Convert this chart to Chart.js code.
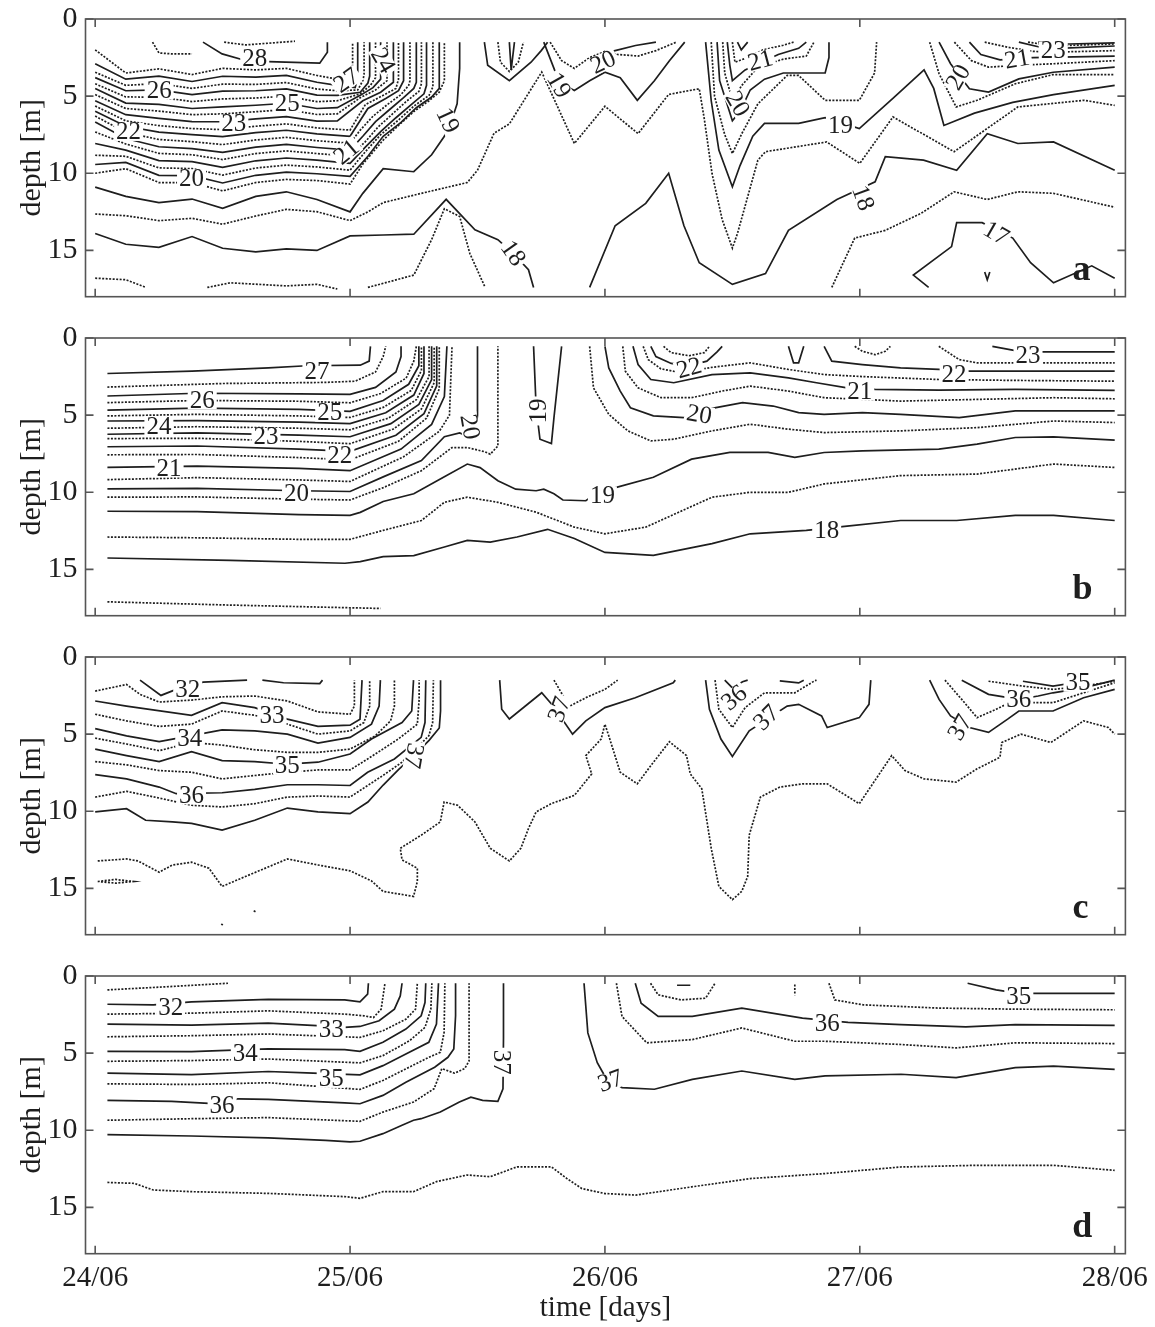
<!DOCTYPE html>
<html lang="en">
<head>
<meta charset="UTF-8">
<title>Temperature and salinity sections</title>
<script src="https://cdn.jsdelivr.net/npm/chart.js"></script>
<style>
    body { margin: 0; background: #fff; overflow: hidden; }
    canvas { position: absolute; left: 0; }
</style>
</head>
<body>
<canvas id="pa" width="1155" height="338" style="top:-11px"></canvas>
<canvas id="pb" width="1155" height="338" style="top:308px"></canvas>
<canvas id="pc" width="1155" height="338" style="top:627px"></canvas>
<canvas id="pd" width="1155" height="381" style="top:946px"></canvas>
<script>
// axis values
const X_MIN = -0.038, X_MAX = 4.042, DEPTH_MAX = 18;
const dayTicks = [0, 1, 2, 3, 4];
const dayLabels = ['24/06', '25/06', '26/06', '27/06', '28/06'];
const depthTicks = [0, 5, 10, 15];

// panel a : contour level, [time (days from 24/06), depth (m)]
const contoursA = [
    [28.5, [[0.225,1.5],[0.25,2.2],[0.3,2.26],[0.38,2.26]]],
    [28.5, [[0.506,1.5],[0.589,1.68],[0.679,1.57],[0.784,1.44]]],
    [28, [[0.423,1.5],[0.498,2.26],[0.589,2.69],[0.68,2.76],[0.881,2.86],[0.911,2.15],[0.911,1.5]]],
    [27.5, [[0,2.0],[0.12,3.5],[0.25,3.23],[0.38,3.6],[0.5,3.2],[0.63,3.3],[0.75,3.2],[0.87,3.66],[0.95,3.9],[1.0,4.2],[1.01,3.6],[1.01,1.5]]],
    [27, [[0,2.9],[0.12,3.9],[0.25,3.7],[0.38,4.05],[0.5,3.71],[0.63,3.77],[0.75,3.66],[0.87,4.1],[0.95,4.3],[1.02,4.45],[1.03,3.8],[1.03,1.5]]],
    [26.5, [[0,3.45],[0.12,4.3],[0.25,4.18],[0.38,4.5],[0.5,4.22],[0.63,4.24],[0.75,4.12],[0.87,4.54],[0.95,4.65],[1.03,4.6],[1.05,4.0],[1.055,3.6],[1.055,1.5]]],
    [26, [[0,3.8],[0.12,4.65],[0.25,4.6],[0.38,4.9],[0.5,4.67],[0.63,4.65],[0.75,4.53],[0.87,4.93],[0.95,4.95],[1.04,4.75],[1.07,4.15],[1.077,3.7],[1.077,1.5]]],
    [25.5, [[0,4.2],[0.12,5.05],[0.25,5.07],[0.38,5.35],[0.5,5.18],[0.63,5.12],[0.75,5.0],[0.87,5.36],[0.95,5.3],[1.04,4.85],[1.08,4.3],[1.1,3.8],[1.1,1.5]]],
    [25, [[0,4.5],[0.12,5.45],[0.25,5.54],[0.38,5.8],[0.5,5.69],[0.63,5.59],[0.75,5.46],[0.87,5.8],[0.95,5.75],[1.04,4.95],[1.09,4.45],[1.12,3.9],[1.12,1.5]]],
    [24.5, [[0,4.9],[0.12,5.8],[0.25,5.97],[0.38,6.2],[0.5,6.15],[0.63,6.01],[0.75,5.87],[0.87,6.19],[0.95,6.15],[1.04,5.1],[1.1,4.6],[1.145,4.0],[1.145,1.5]]],
    [24, [[0,5.3],[0.12,6.2],[0.25,6.44],[0.38,6.65],[0.5,6.66],[0.63,6.48],[0.75,6.33],[0.87,6.62],[0.95,6.6],[1.05,5.3],[1.12,4.75],[1.17,4.1],[1.17,1.5]]],
    [23.5, [[0,5.64],[0.12,6.6],[0.25,6.91],[0.38,7.1],[0.5,7.17],[0.63,6.95],[0.75,6.8],[0.87,7.06],[1.0,7.2],[1.06,5.55],[1.13,4.95],[1.18,4.5],[1.19,3.9],[1.19,1.5]]],
    [23, [[0,5.98],[0.12,6.95],[0.25,7.33],[0.38,7.5],[0.5,7.63],[0.63,7.37],[0.75,7.21],[0.87,7.45],[1.0,7.6],[1.07,5.8],[1.14,5.15],[1.19,4.65],[1.21,4.0],[1.21,1.5]]],
    [22.5, [[0,6.29],[0.12,7.35],[0.25,7.81],[0.38,7.95],[0.5,8.14],[0.63,7.84],[0.75,7.67],[0.87,7.89],[1.0,8.05],[1.04,7.2],[1.09,6.3],[1.15,5.5],[1.2,4.9],[1.23,4.3],[1.235,4.0],[1.235,1.5]]],
    [22, [[0,6.67],[0.12,7.75],[0.25,8.28],[0.38,8.4],[0.5,8.65],[0.63,8.3],[0.75,8.13],[0.87,8.33],[1.0,8.5],[1.05,7.6],[1.1,6.65],[1.16,5.8],[1.21,5.1],[1.25,4.5],[1.26,4.1],[1.26,1.5]]],
    [21.5, [[0,7.32],[0.12,8.1],[0.25,8.71],[0.38,8.8],[0.5,9.11],[0.63,8.72],[0.75,8.55],[0.87,8.72],[1.0,8.9],[1.06,7.95],[1.11,7.0],[1.17,6.1],[1.22,5.35],[1.27,4.7],[1.28,4.2],[1.28,1.5]]],
    [21, [[0,8.07],[0.12,8.5],[0.25,9.18],[0.38,9.25],[0.5,9.62],[0.63,9.19],[0.75,9.01],[0.87,9.15],[1.0,9.35],[1.06,8.3],[1.12,7.3],[1.18,6.4],[1.24,5.55],[1.29,4.85],[1.3,4.3],[1.3,1.5]]],
    [20.5, [[0,8.83],[0.12,8.9],[0.25,9.65],[0.38,9.7],[0.5,10.12],[0.63,9.66],[0.75,9.47],[0.87,9.59],[1.0,9.8],[1.06,8.6],[1.12,7.5],[1.19,6.55],[1.25,5.65],[1.31,4.95],[1.325,4.4],[1.325,1.5]]],
    [20, [[0,9.43],[0.12,9.3],[0.25,10.13],[0.38,10.15],[0.5,10.63],[0.63,10.13],[0.75,9.93],[0.87,10.03],[1.0,10.2],[1.07,8.9],[1.13,7.6],[1.2,6.7],[1.26,5.75],[1.32,5.06],[1.35,4.5],[1.35,1.5]]],
    [19.5, [[0,10.0],[0.12,9.7],[0.25,10.6],[0.38,10.6],[0.5,11.14],[0.63,10.6],[0.75,10.4],[0.87,10.47],[1.0,10.7],[1.05,9.4],[1.13,7.85],[1.19,6.9],[1.25,6.0],[1.31,5.3],[1.35,4.74],[1.37,4.0],[1.37,1.5]]],
    [19, [[0,10.9],[0.12,11.5],[0.25,11.9],[0.38,11.67],[0.5,12.27],[0.63,11.5],[0.75,11.2],[0.87,11.7],[1.0,12.5],[1.05,11.3],[1.13,9.7],[1.25,9.9],[1.32,8.8],[1.37,7.6],[1.4,6.5],[1.42,5.5],[1.43,3.2],[1.43,1.5]]],
    [18.5, [[0,12.64],[0.12,12.75],[0.25,13.07],[0.38,12.92],[0.5,13.3],[0.63,12.77],[0.75,12.34],[0.87,12.49],[1.0,13.07],[1.07,12.5],[1.13,11.9],[1.28,11.3],[1.46,10.6],[1.5,9.8],[1.565,7.4],[1.625,6.8],[1.752,3.44],[1.88,8.07],[2.0,5.66],[2.13,7.43],[2.25,4.89],[2.37,4.52],[2.39,6.5],[2.42,10.0],[2.46,13.0],[2.5,14.85],[2.52,13.9],[2.6,9.15],[2.63,8.6],[2.87,7.97],[3.0,9.36],[3.13,6.35],[3.37,8.6],[3.62,5.7],[3.88,5.27],[4.0,5.6]]],
    [18, [[0,13.9],[0.12,14.6],[0.25,14.8],[0.38,14.1],[0.5,14.86],[0.63,15.1],[0.75,14.9],[0.87,15.0],[1.0,14.06],[1.13,14.0],[1.25,13.95],[1.377,11.69],[1.49,13.67],[1.58,14.3],[1.64,15.2],[1.7,16.25],[1.72,17.4]]],
    [18, [[1.94,17.4],[2.04,13.4],[2.16,11.95],[2.25,10.0],[2.31,13.4],[2.37,15.8],[2.5,17.2],[2.63,16.5],[2.72,13.7],[2.91,11.7],[3.06,10.55],[3.1,8.93],[3.25,9.15],[3.38,9.8],[3.5,7.43],[3.62,8.07],[3.76,7.97],[4.0,9.8]]],
    [17.5, [[0,16.8],[0.12,16.9],[0.2,17.4]]],
    [17.5, [[0.44,17.4],[0.53,17.1],[0.75,17.3],[0.87,17.2],[0.95,17.5]]],
    [17.5, [[1.07,17.4],[1.25,16.6],[1.32,14.3],[1.37,12.3],[1.43,12.8],[1.47,15.2],[1.53,17.4]]],
    [17.5, [[2.89,17.4],[2.98,14.2],[3.1,13.7],[3.24,12.6],[3.37,11.2],[3.5,11.7],[3.62,11.2],[3.76,11.3],[4.0,12.2]]],
    [17, [[3.27,17.4],[3.21,16.6],[3.36,14.75],[3.38,13.2],[3.48,13.2],[3.6,14.2],[3.67,15.8],[3.76,17.1],[3.91,16.0],[4.0,16.8]]],
    [17, [[3.49,16.4],[3.5,16.9],[3.51,16.4]]],
    [19, [[1.527,1.5],[1.54,3.0],[1.625,4.0],[1.71,2.8],[1.75,2.05],[1.775,1.5]]],
    [19.5, [[1.58,1.5],[1.59,2.8],[1.625,3.4],[1.66,2.8],[1.68,1.5]]],
    [20, [[1.625,1.5],[1.632,3.3],[1.645,1.5]]],
    [19, [[1.76,1.5],[1.8,3.2],[1.82,4.1],[1.88,4.63],[1.94,4.0],[2.0,3.45],[2.06,3.8],[2.127,5.27],[2.194,4.0],[2.253,2.7],[2.313,1.5]]],
    [19.5, [[1.785,1.5],[1.83,2.7],[1.88,3.2],[1.94,2.5],[2.0,2.1],[2.05,2.3],[2.13,2.4],[2.2,2.05],[2.28,1.5]]],
    [20, [[1.98,2.3],[2.04,2.05],[2.12,1.72],[2.2,1.5]]],
    [19, [[2.395,1.5],[2.417,5.3],[2.447,8.5],[2.5,10.87],[2.53,9.5],[2.58,7.6],[2.626,6.77],[2.76,6.77],[2.864,6.4],[2.998,7.1],[3.133,5.1],[3.252,3.3],[3.29,4.5],[3.33,6.9],[3.45,6.1],[3.6,5.4],[3.76,4.9],[4.0,4.3]]],
    [19.5, [[2.417,1.5],[2.43,5.0],[2.47,7.5],[2.5,8.72],[2.537,7.43],[2.6,5.5],[2.715,3.66],[2.76,3.66],[2.864,5.27],[2.998,5.27],[3.058,3.5],[3.066,1.5]]],
    [20, [[2.44,1.5],[2.45,4.0],[2.5,6.6],[2.53,6.0],[2.57,4.6],[2.626,3.9],[2.7,3.5],[2.864,3.5],[2.879,2.5],[2.879,1.5]]],
    [20.5, [[2.462,1.5],[2.47,3.5],[2.5,5.27],[2.537,4.3],[2.6,3.12],[2.7,2.6],[2.79,2.4],[2.82,1.5]]],
    [21, [[2.48,1.5],[2.49,3.0],[2.5,4.0],[2.55,3.3],[2.68,2.3],[2.76,1.9],[2.79,1.5]]],
    [21.5, [[2.5,1.5],[2.51,2.8],[2.56,2.5],[2.62,2.0],[2.7,1.7],[2.74,1.5]]],
    [22, [[2.52,1.5],[2.535,2.0],[2.56,1.5]]],
    [19.5, [[3.274,1.5],[3.311,3.55],[3.378,5.7],[3.46,5.27],[3.61,4.2],[3.759,3.6],[4.0,3.6]]],
    [20, [[3.311,1.5],[3.356,2.9],[3.43,4.52],[3.505,4.74],[3.624,3.88],[3.759,3.45],[4.0,3.12]]],
    [20.5, [[3.371,1.5],[3.438,2.7],[3.505,3.12],[3.624,3.0],[3.759,2.9],[4.0,2.7]]],
    [21, [[3.43,1.5],[3.475,2.3],[3.55,2.65],[3.68,2.5],[4.0,2.4]]],
    [21.5, [[3.49,1.5],[3.58,1.83],[3.68,2.1],[3.759,2.15],[4.0,2.05]]],
    [22, [[3.624,1.5],[3.7,1.8],[3.78,1.9],[4.0,1.75]]],
    [22.5, [[3.66,1.5],[3.74,1.7],[3.8,1.72],[4.0,1.62]]],
    [23, [[3.7,1.5],[3.82,1.62],[4.0,1.55]]]
];
// label text, time, depth, tilt in degrees
const labelsA = [
    ['28', 0.626, 2.58, 0], ['27', 0.986, 3.98, -35], ['26', 0.251, 4.63, 0], ['25', 0.754, 5.49, 0],
    ['24', 1.129, 2.69, 60], ['23', 0.544, 6.78, 0], ['22', 0.131, 7.32, 0], ['21', 0.986, 8.61, -40],
    ['20', 0.378, 10.33, 0], ['19', 1.384, 6.57, 65], ['18', 1.64, 15.18, 55], ['19', 1.82, 4.3, 60],
    ['20', 1.993, 2.8, -25], ['21', 2.61, 2.69, -15], ['20', 2.52, 5.49, 60], ['19', 2.924, 6.89, 0],
    ['18', 3.013, 11.6, 70], ['17', 3.535, 13.89, 30], ['20', 3.386, 3.77, -60], ['21', 3.617, 2.6, -10],
    ['23', 3.759, 2.05, 0]
];

// panel b
const contoursB = [
    [27, [[0.048,2.3],[0.38,2.15],[0.68,1.94],[0.83,1.8],[1.04,1.76],[1.075,1.5],[1.08,0.54]]],
    [26.5, [[0.048,3.18],[0.5,2.95],[0.9,2.88],[1.02,2.8],[1.1,2.2],[1.13,1.2],[1.14,0.54]]],
    [26, [[0.048,3.76],[0.4,3.58],[0.8,3.62],[1.0,3.65],[1.1,3.2],[1.18,2.2],[1.2,1.2],[1.2,0.54]]],
    [25.5, [[0.048,4.19],[0.4,4.05],[0.8,4.1],[1.0,4.2],[1.12,3.6],[1.22,2.6],[1.25,1.5],[1.26,0.54]]],
    [25, [[0.048,4.67],[0.4,4.55],[0.8,4.62],[1.0,4.75],[1.13,4.05],[1.23,3.0],[1.27,1.8],[1.27,0.54]]],
    [24.5, [[0.048,5.05],[0.4,4.95],[0.8,5.05],[1.0,5.15],[1.13,4.5],[1.24,3.4],[1.28,2.1],[1.28,0.54]]],
    [24, [[0.048,5.38],[0.4,5.35],[0.8,5.45],[1.0,5.55],[1.14,4.85],[1.25,3.7],[1.29,2.3],[1.29,0.54]]],
    [23.5, [[0.048,5.85],[0.4,5.75],[0.8,5.85],[1.0,5.95],[1.15,5.2],[1.26,4.0],[1.31,2.5],[1.31,0.54]]],
    [23, [[0.048,6.24],[0.4,6.15],[0.8,6.3],[1.0,6.4],[1.16,5.55],[1.27,4.3],[1.32,2.7],[1.32,0.54]]],
    [22.5, [[0.048,6.52],[0.4,6.5],[0.8,6.7],[1.0,6.85],[1.17,5.9],[1.28,4.6],[1.33,2.9],[1.33,0.54]]],
    [22, [[0.048,7.05],[0.4,7.0],[0.8,7.2],[1.0,7.35],[1.18,6.3],[1.29,4.9],[1.34,3.1],[1.34,0.54]]],
    [21.5, [[0.048,7.57],[0.4,7.55],[0.8,7.75],[1.0,7.9],[1.19,6.7],[1.3,5.2],[1.35,3.3],[1.35,0.54]]],
    [21, [[0.048,8.39],[0.4,8.3],[0.8,8.45],[1.0,8.6],[1.2,7.2],[1.32,5.6],[1.37,3.8],[1.38,0.54]]],
    [20.5, [[0.048,9.18],[0.4,9.05],[0.8,9.2],[1.0,9.3],[1.21,7.7],[1.35,6.05],[1.39,5.0],[1.4,0.54]]],
    [20, [[0.048,9.78],[0.4,9.75],[0.8,9.9],[1.0,9.95],[1.13,9.0],[1.28,7.95],[1.37,6.4],[1.43,6.15],[1.49,6.55],[1.5,5.0],[1.5,0.54]]],
    [19.5, [[0.048,10.32],[0.4,10.3],[0.8,10.45],[1.0,10.5],[1.13,9.7],[1.28,8.6],[1.4,7.1],[1.46,7.1],[1.53,7.38],[1.55,7.53],[1.58,7.0],[1.58,0.54]]],
    [19, [[0.048,11.23],[0.4,11.25],[0.8,11.45],[1.0,11.5],[1.04,11.3],[1.13,10.6],[1.25,10.1],[1.37,9.0],[1.46,8.17],[1.51,8.4],[1.58,9.25],[1.65,9.8],[1.73,9.9],[1.76,9.8],[1.8,10.1],[1.835,10.5],[1.925,10.55],[1.955,10.2],[2.045,9.68],[2.19,9.03],[2.34,7.85],[2.49,7.42],[2.64,7.42],[2.745,7.74],[2.86,7.42],[3.01,7.31],[3.31,7.2],[3.46,6.88],[3.61,6.45],[3.76,6.41],[4.0,6.62]]],
    [18.5, [[0.048,12.9],[0.4,12.95],[0.8,13.05],[1.0,13.05],[1.13,12.47],[1.28,11.83],[1.37,10.65],[1.46,10.32],[1.58,10.65],[1.73,11.29],[1.88,12.26],[2.0,12.69],[2.16,12.26],[2.42,10.32],[2.57,10.0],[2.72,10.0],[2.86,9.46],[3.16,8.92],[3.46,8.82],[3.76,8.17],[4.0,8.39]]],
    [18, [[0.048,14.26],[0.53,14.41],[0.98,14.6],[1.04,14.5],[1.13,14.17],[1.25,14.1],[1.37,13.55],[1.46,13.12],[1.55,13.23],[1.655,12.9],[1.775,12.4],[1.88,13.0],[2.0,13.9],[2.19,14.09],[2.42,13.33],[2.57,12.69],[2.79,12.47],[2.95,12.2],[3.16,11.83],[3.38,11.83],[3.61,11.5],[3.76,11.5],[4.0,11.83]]],
    [17.5, [[0.048,17.1],[0.5,17.3],[1.12,17.53]]],
    [19, [[1.72,0.54],[1.73,4.5],[1.745,6.56],[1.79,6.84],[1.8,5.16],[1.83,0.54]]],
    [19.5, [[1.94,0.54],[1.955,3.23],[2.015,4.95],[2.09,6.02],[2.18,6.67],[2.27,6.56],[2.42,6.02],[2.57,5.59],[2.72,5.91],[2.86,6.13],[3.16,6.02],[3.46,5.81],[3.76,5.38],[4.0,5.48]]],
    [20, [[2.0,0.54],[2.015,1.94],[2.06,3.44],[2.1,4.52],[2.19,5.05],[2.31,5.16],[2.42,4.56],[2.54,4.19],[2.66,4.41],[2.76,4.84],[2.86,4.95],[3.01,4.84],[3.16,4.95],[3.39,5.16],[3.61,4.73],[4.0,4.73]]],
    [20.5, [[2.07,0.54],[2.08,2.15],[2.13,3.23],[2.22,3.87],[2.34,3.87],[2.46,3.44],[2.57,3.12],[2.72,3.44],[2.86,3.87],[3.16,4.09],[3.46,3.98],[3.76,3.87],[4.0,3.94]]],
    [21, [[2.11,0.54],[2.13,1.72],[2.18,2.69],[2.27,2.9],[2.42,2.37],[2.57,2.26],[2.72,2.58],[2.83,2.9],[2.95,3.23],[3.06,3.33],[3.31,3.38],[3.61,3.33],[4.0,3.4]]],
    [21.5, [[2.15,0.54],[2.17,1.4],[2.22,2.0],[2.3,2.25],[2.42,1.9],[2.57,1.61],[2.72,2.04],[2.86,2.37],[3.01,2.5],[3.31,2.69],[3.61,2.75],[4.0,2.8]]],
    [22, [[2.18,0.54],[2.2,1.2],[2.26,1.65],[2.33,1.8],[2.4,1.5],[2.44,0.9],[2.46,0.54]]],
    [22.5, [[2.23,0.54],[2.26,0.95],[2.33,1.15],[2.39,0.95],[2.41,0.54]]],
    [22, [[2.72,0.54],[2.74,1.61],[2.76,1.61],[2.78,0.54]]],
    [22, [[2.86,0.54],[2.89,1.5],[3.01,1.72],[3.16,1.94],[3.31,2.04],[3.43,2.15],[3.61,2.15],[4.0,2.15]]],
    [22.5, [[2.98,0.54],[3.01,0.86],[3.06,1.08],[3.1,0.86],[3.12,0.54]]],
    [22.5, [[3.31,0.54],[3.39,1.4],[3.46,1.61],[3.76,1.61],[4.0,1.61]]],
    [23, [[3.52,0.54],[3.61,0.82],[3.71,0.9],[4.0,0.9]]]
];
const labelsB = [
    ['27', 0.87, 2.15, 0], ['26', 0.42, 4.04, 0], ['25', 0.92, 4.84, 0], ['24', 0.25, 5.76, 0],
    ['23', 0.67, 6.41, 0], ['22', 0.96, 7.63, 0], ['21', 0.29, 8.45, 0], ['20', 0.79, 10.06, 0],
    ['20', 1.47, 5.76, 80], ['19', 1.74, 4.73, -90], ['19', 1.99, 10.2, 0], ['18', 2.87, 12.5, 0],
    ['22', 2.33, 1.94, -15], ['22', 3.37, 2.37, 0], ['21', 3.0, 3.48, 0], ['20', 2.37, 4.95, 10],
    ['23', 3.66, 1.14, 0]
];

// panel c
const contoursC = [
    [32, [[0.176,1.5],[0.258,2.49],[0.318,2.1],[0.423,1.63],[0.596,1.5]]],
    [32, [[0.656,1.5],[0.739,1.67],[0.881,1.72],[0.892,1.5]]],
    [32.5, [[0,2.21],[0.123,1.78],[0.176,2.42],[0.251,2.92],[0.378,2.79],[0.498,2.58],[0.626,2.53],[0.754,2.85],[0.874,3.56],[1.0,3.71],[1.017,3.18],[1.017,1.5]]],
    [33, [[0,2.85],[0.123,3.18],[0.378,3.78],[0.498,2.96],[0.626,3.28],[0.754,4.03],[0.874,4.5],[1.0,4.42],[1.039,4.03],[1.047,1.5]]],
    [33.5, [[0,3.71],[0.123,4.14],[0.251,4.5],[0.378,4.35],[0.498,3.5],[0.626,3.78],[0.754,4.35],[0.874,5.0],[1.0,4.79],[1.054,4.25],[1.077,3.18],[1.077,1.5]]],
    [34, [[0,4.64],[0.123,5.11],[0.251,5.49],[0.378,5.1],[0.498,4.72],[0.626,4.79],[0.754,5.0],[0.874,5.58],[1.0,5.21],[1.084,4.35],[1.114,3.18],[1.119,1.5]]],
    [34.5, [[0,5.26],[0.123,5.64],[0.251,6.07],[0.378,5.54],[0.498,5.71],[0.626,6.01],[0.754,6.18],[0.874,6.18],[1.0,5.97],[1.099,5.11],[1.159,4.14],[1.174,3.18],[1.174,1.5]]],
    [35, [[0,5.97],[0.123,6.39],[0.251,6.78],[0.378,6.14],[0.498,6.72],[0.626,6.78],[0.754,6.95],[0.874,6.82],[1.0,6.29],[1.084,5.32],[1.204,4.25],[1.242,3.5],[1.249,1.5]]],
    [35.5, [[0,6.78],[0.123,6.99],[0.251,7.36],[0.378,7.47],[0.498,7.9],[0.626,7.68],[0.754,7.47],[0.874,7.32],[1.0,7.32],[1.069,6.61],[1.189,5.32],[1.264,4.35],[1.271,2.75],[1.271,1.5]]],
    [36, [[0,7.62],[0.123,7.9],[0.251,8.43],[0.318,8.86],[0.498,8.8],[0.626,8.58],[0.754,8.28],[0.874,8.28],[1.0,8.33],[1.069,7.47],[1.174,6.61],[1.279,5.21],[1.294,4.25],[1.297,1.5]]],
    [36.5, [[0,9.08],[0.123,8.71],[0.251,9.14],[0.378,9.61],[0.498,9.72],[0.626,9.51],[0.754,9.08],[0.874,9.01],[1.0,9.08],[1.069,8.33],[1.129,7.68],[1.204,6.82],[1.309,5.11],[1.324,4.25],[1.327,1.5]]],
    [37, [[0,10.04],[0.123,9.83],[0.198,10.58],[0.303,10.69],[0.378,10.79],[0.498,11.22],[0.626,10.58],[0.754,9.79],[0.874,10.04],[1.0,10.15],[1.07,9.4],[1.13,8.3],[1.19,7.3],[1.25,6.4],[1.31,5.4],[1.35,4.6],[1.355,3.5],[1.355,1.5]]],
    [37.5, [[0.01,13.22],[0.123,13.09],[0.168,13.22],[0.251,13.95],[0.303,13.48],[0.378,13.3],[0.446,13.69],[0.498,14.87],[0.589,14.23],[0.754,13.09],[0.874,13.48],[1.0,13.86],[1.084,14.51],[1.129,15.19],[1.249,15.52],[1.264,14.55],[1.264,13.69],[1.204,13.15],[1.197,12.4],[1.279,11.55],[1.354,10.69],[1.369,9.4],[1.422,9.61],[1.49,10.69],[1.55,12.4],[1.625,13.22],[1.67,12.4],[1.7,11.12],[1.73,10.04],[1.79,9.5],[1.88,8.97],[1.948,7.58],[1.925,6.39],[1.985,5.32],[2.0,4.36],[2.015,5.11],[2.06,7.47],[2.127,8.22],[2.18,7.04],[2.253,5.49],[2.32,6.39],[2.335,7.58],[2.38,8.54],[2.417,12.4],[2.447,14.87],[2.5,15.73],[2.537,15.19],[2.56,14.23],[2.566,11.55],[2.61,9.08],[2.686,8.43],[2.775,8.22],[2.872,8.22],[2.998,9.51],[3.125,6.39],[3.177,7.36],[3.252,7.9],[3.378,8.11],[3.46,7.25],[3.55,6.5],[3.557,5.54],[3.632,5.0],[3.75,5.54],[3.878,4.14],[3.975,4.57],[4.0,5.0]]],
    [37.5, [[0.01,14.55],[0.08,14.42],[0.15,14.55],[0.08,14.66],[0.01,14.55]]],
    [37.5, [[0.622,16.45],[0.63,16.52]]],
    [37.5, [[0.494,17.32],[0.502,17.36]]],
    [37, [[1.587,1.5],[1.595,3.39],[1.625,4.02],[1.752,2.32],[1.797,3.18],[1.873,5.0],[1.925,4.14],[2.0,3.28],[2.119,2.64],[2.268,1.67],[2.276,1.5]]],
    [36.5, [[1.8,1.5],[1.86,3.2],[1.93,2.6],[2.0,2.1],[2.05,1.5]]],
    [37, [[2.395,1.5],[2.41,3.39],[2.455,5.32],[2.5,6.44],[2.566,4.79],[2.715,3.18],[2.76,3.07],[2.85,3.82],[2.872,4.57],[2.998,3.93],[3.036,3.07],[3.043,1.5]]],
    [36.5, [[2.432,1.5],[2.447,3.39],[2.5,4.57],[2.55,3.28],[2.626,2.32],[2.745,2.32],[2.82,1.57],[2.83,1.5]]],
    [36, [[2.47,1.5],[2.5,2.0],[2.54,1.6],[2.56,1.5]]],
    [36, [[2.686,1.55],[2.76,1.68],[2.78,1.5]]],
    [37, [[3.274,1.5],[3.311,2.75],[3.356,3.82],[3.43,4.57],[3.505,4.89],[3.58,4.03],[3.624,3.5],[3.758,3.5],[3.878,2.64],[4.0,2.1]]],
    [36.5, [[3.334,1.5],[3.4,2.75],[3.46,3.93],[3.535,3.39],[3.587,2.96],[3.758,2.96],[3.878,2.32],[4.0,1.67]]],
    [36, [[3.4,1.5],[3.505,2.42],[3.624,2.75],[3.7,2.53],[3.758,2.32],[3.878,2.0],[4.0,1.5]]],
    [35.5, [[3.505,1.57],[3.64,1.89],[3.758,2.1],[3.878,1.89],[4.0,1.57]]],
    [35, [[3.64,1.57],[3.758,1.89],[3.878,1.57]]]
];
const labelsC = [
    ['32', 0.363, 2.1, 0], ['33', 0.694, 3.82, 0], ['34', 0.371, 5.28, 0], ['35', 0.754, 7.04, 0],
    ['36', 0.378, 8.97, 0], ['37', 1.25, 6.4, 100], ['37', 1.82, 3.39, -70], ['36', 2.507, 2.64, -40],
    ['37', 2.633, 3.93, -45], ['37', 3.393, 4.57, -60], ['36', 3.624, 2.75, 0], ['35', 3.856, 1.67, 0]
];

// panel d
const contoursD = [
    [31.5, [[0.048,0.9],[0.288,0.69],[0.521,0.47]]],
    [32, [[0.048,1.83],[0.228,1.87],[0.378,1.68],[0.679,1.51],[0.979,1.55],[1.039,1.68],[1.069,1.18],[1.072,0.47]]],
    [32.5, [[0.048,2.47],[0.378,2.41],[0.679,2.26],[0.979,2.47],[1.054,2.58],[1.092,2.69],[1.122,2.15],[1.137,0.47]]],
    [33, [[0.048,3.12],[0.378,3.18],[0.679,3.05],[0.889,3.23],[0.979,3.33],[1.039,3.27],[1.114,2.9],[1.174,2.15],[1.197,1.29],[1.204,0.47]]],
    [33.5, [[0.048,3.94],[0.378,3.87],[0.679,3.76],[1.039,3.98],[1.129,3.55],[1.219,2.8],[1.257,2.15],[1.264,0.47]]],
    [34, [[0.048,4.88],[0.378,4.9],[0.679,4.73],[0.979,4.77],[1.039,4.88],[1.129,4.3],[1.219,3.44],[1.279,2.58],[1.294,1.72],[1.297,0.47]]],
    [34.5, [[0.048,5.53],[0.378,5.48],[0.679,5.38],[1.039,5.63],[1.129,5.16],[1.234,4.19],[1.294,3.33],[1.317,2.15],[1.321,0.47]]],
    [35, [[0.048,6.3],[0.378,6.39],[0.679,6.19],[0.829,6.28],[1.039,6.41],[1.129,5.81],[1.219,5.05],[1.309,4.3],[1.339,3.12],[1.347,0.47]]],
    [35.5, [[0.048,6.99],[0.378,7.03],[0.679,6.92],[1.039,7.35],[1.129,6.77],[1.219,6.02],[1.309,5.27],[1.354,4.95],[1.369,3.66],[1.372,0.47]]],
    [36, [[0.048,8.06],[0.3,8.13],[0.5,8.3],[0.56,7.96],[0.679,8.0],[0.979,8.22],[1.039,8.28],[1.129,7.74],[1.219,6.88],[1.332,5.91],[1.384,5.27],[1.407,4.73],[1.414,2.58],[1.414,0.47]]],
    [36.5, [[0.048,9.35],[0.378,9.25],[0.679,9.18],[1.039,9.42],[1.129,8.82],[1.249,8.17],[1.33,7.3],[1.36,6.0],[1.41,6.3],[1.45,6.0],[1.467,5.5],[1.467,0.47]]],
    [37, [[0.048,10.28],[0.378,10.37],[0.679,10.49],[0.904,10.65],[1.0,10.75],[1.039,10.71],[1.129,10.22],[1.204,9.68],[1.249,9.35],[1.279,9.25],[1.354,8.82],[1.429,8.17],[1.474,7.85],[1.52,8.06],[1.58,8.13],[1.6,7.31],[1.602,4.0],[1.602,0.47]]],
    [37.5, [[0.048,13.38],[0.153,13.44],[0.228,13.87],[0.378,13.98],[0.679,14.09],[0.979,14.3],[1.039,14.41],[1.129,13.98],[1.249,13.98],[1.339,13.33],[1.459,12.9],[1.55,13.01],[1.655,12.37],[1.79,12.37],[1.85,13.12],[1.91,13.78],[2.0,14.1],[2.12,14.2],[2.34,13.67],[2.57,13.13],[2.86,12.81],[3.16,12.38],[3.46,12.27],[3.76,12.27],[4.0,12.6]]],
    [37, [[1.918,0.47],[1.933,3.69],[1.97,5.62],[2.0,6.5],[2.067,7.23],[2.194,7.34],[2.343,6.7],[2.537,6.16],[2.745,6.7],[2.864,6.48],[3.162,6.37],[3.378,6.59],[3.61,5.94],[3.76,5.84],[4.0,6.05]]],
    [36.5, [[2.045,0.47],[2.067,2.62],[2.164,4.33],[2.343,4.12],[2.537,3.37],[2.745,4.23],[2.864,4.23],[3.162,4.44],[3.378,4.66],[3.61,4.33],[4.0,4.38]]],
    [36, [[2.119,0.47],[2.142,1.76],[2.209,2.62],[2.343,2.62],[2.537,2.08],[2.775,2.73],[2.954,3.0],[3.162,3.15],[3.416,3.3],[3.61,3.15],[4.0,3.2]]],
    [35.5, [[2.179,0.47],[2.209,1.22],[2.298,1.55],[2.395,1.44],[2.432,0.47]]],
    [35, [[2.283,0.6],[2.335,0.6]]],
    [35.5, [[2.745,0.55],[2.745,1.25]]],
    [35.5, [[2.879,0.47],[2.902,1.55],[3.013,1.87],[3.311,2.08],[3.61,2.15],[4.0,2.19]]],
    [35, [[3.423,0.47],[3.535,0.9],[3.624,1.12],[3.7,1.12],[4.0,1.12]]]
];
const labelsD = [
    ['32', 0.296, 2.04, 0], ['33', 0.926, 3.44, 0], ['34', 0.589, 4.99, 0], ['35', 0.926, 6.67, 0],
    ['36', 0.498, 8.39, 0], ['37', 1.595, 5.59, 90], ['37', 2.022, 6.8, -20], ['36', 2.872, 3.09, 0],
    ['35', 3.624, 1.33, 0]
];

const SERIF = '"Liberation Serif", "Times New Roman", serif';
const INK = '#1e1e1e';

const panelExtras = {
    pa: { labels: labelsA, letter: 'a' },
    pb: { labels: labelsB, letter: 'b' },
    pc: { labels: labelsC, letter: 'c' },
    pd: { labels: labelsD, letter: 'd' }
};

// contour labels, box with inward ticks, panel letter
const contourFrame = {
    id: 'contourFrame',
    afterDatasetsDraw(chart) {
        const extra = panelExtras[chart.canvas.id];
        const { ctx, chartArea: area, scales: { x, y } } = chart;
        ctx.save();
        ctx.font = '25px ' + SERIF;
        ctx.textAlign = 'center';
        ctx.textBaseline = 'middle';
        extra.labels.forEach(([txt, t, d, ang]) => {
            const px = x.getPixelForValue(t);
            const py = y.getPixelForValue(d);
            const w = ctx.measureText(txt).width;
            ctx.save();
            ctx.translate(px, py);
            ctx.rotate(ang * Math.PI / 180);
            ctx.fillStyle = '#fff';
            ctx.fillRect(-w / 2 - 2, -9, w + 4, 18);
            ctx.fillStyle = INK;
            ctx.fillText(txt, 0, 1);
            ctx.restore();
        });

        ctx.strokeStyle = '#555';
        ctx.lineWidth = 1.6;
        ctx.strokeRect(area.left, area.top, area.right - area.left, area.bottom - area.top);
        ctx.beginPath();
        dayTicks.forEach(v => {
            const px = x.getPixelForValue(v);
            ctx.moveTo(px, area.bottom); ctx.lineTo(px, area.bottom - 8);
            ctx.moveTo(px, area.top); ctx.lineTo(px, area.top + 8);
        });
        depthTicks.forEach(v => {
            const py = y.getPixelForValue(v);
            ctx.moveTo(area.left, py); ctx.lineTo(area.left + 8, py);
            ctx.moveTo(area.right, py); ctx.lineTo(area.right - 8, py);
        });
        ctx.stroke();

        ctx.font = 'bold 36px ' + SERIF;
        ctx.fillStyle = INK;
        ctx.textAlign = 'left';
        ctx.textBaseline = 'alphabetic';
        ctx.fillText(extra.letter, area.right - 53, area.bottom - 17);
        ctx.restore();
    }
};

function drawPanel(id, contours, withTime) {
    const datasets = contours.map(([level, pts]) => ({
        label: String(level),
        data: pts.map(([t, d]) => ({ x: t, y: d })),
        showLine: true,
        borderColor: INK,
        borderWidth: 1.7,
        borderDash: Number.isInteger(level) ? [] : [2, 1.5],
        pointRadius: 0,
        tension: 0,
        fill: false
    }));

    new Chart(document.getElementById(id), {
        type: 'scatter',
        data: { datasets },
        plugins: [contourFrame],
        options: {
            responsive: false,
            animation: false,
            devicePixelRatio: 1,
            layout: { padding: { left: 0, right: 29.6, top: 30, bottom: withTime ? 0 : 30.3 } },
            plugins: { legend: { display: false }, tooltip: { enabled: false } },
            scales: {
                x: {
                    type: 'linear',
                    min: X_MIN,
                    max: X_MAX,
                    display: withTime,
                    grid: { display: false, drawTicks: false },
                    border: { display: false },
                    afterBuildTicks: s => { s.ticks = dayTicks.map(v => ({ value: v })); },
                    afterFit: s => { s.height = withTime ? 73.3 : 0; },
                    ticks: {
                        padding: 7,
                        autoSkip: false,
                        maxRotation: 0,
                        color: INK,
                        font: { family: SERIF, size: 29 },
                        callback: v => dayLabels[dayTicks.indexOf(v)]
                    },
                    title: {
                        display: true,
                        text: 'time [days]',
                        color: INK,
                        font: { family: SERIF, size: 29 },
                        padding: { top: 0, bottom: 1 }
                    }
                },
                y: {
                    type: 'linear',
                    reverse: true,
                    min: 0,
                    max: DEPTH_MAX,
                    grid: { display: false, drawTicks: false },
                    border: { display: false },
                    afterBuildTicks: s => { s.ticks = depthTicks.map(v => ({ value: v })); },
                    afterFit: s => { s.width = 85.5; },
                    ticks: { padding: 8, color: INK, font: { family: SERIF, size: 30 } },
                    title: {
                        display: true,
                        text: 'depth [m]',
                        color: INK,
                        font: { family: SERIF, size: 30 },
                        padding: { top: 14, bottom: 0 }
                    }
                }
            }
        }
    });
}

drawPanel('pa', contoursA, false);
drawPanel('pb', contoursB, false);
drawPanel('pc', contoursC, false);
drawPanel('pd', contoursD, true);
</script>
</body>
</html>
